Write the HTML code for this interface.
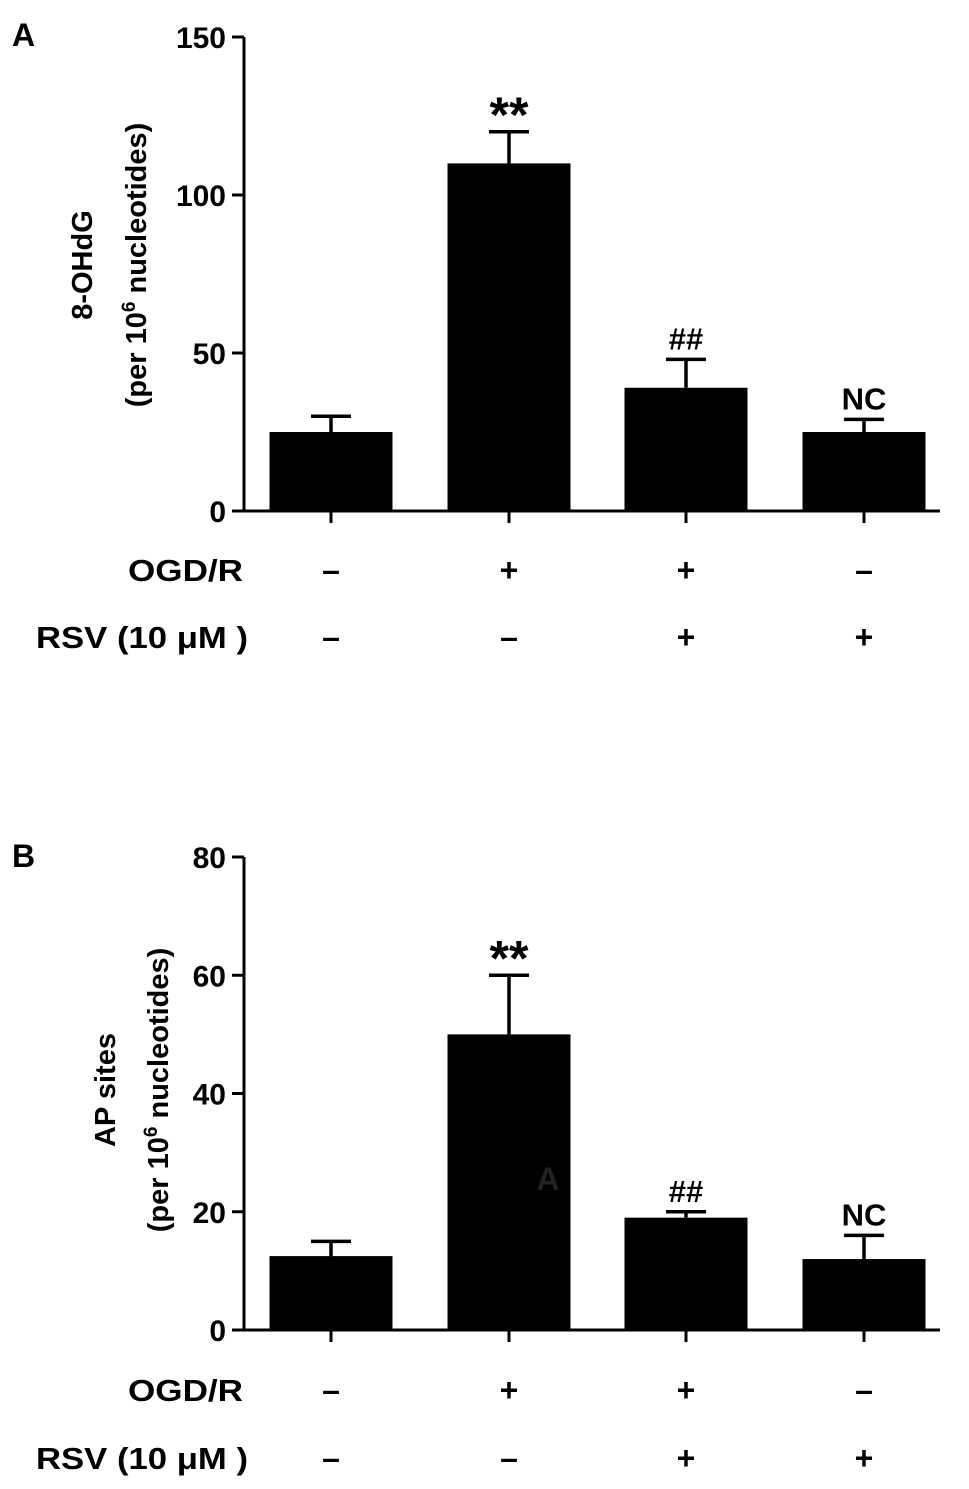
<!DOCTYPE html>
<html><head><meta charset="utf-8"><style>
html,body{margin:0;padding:0;background:#fff;}
svg{display:block;font-family:"Liberation Sans",Arial,sans-serif;font-weight:bold;}
</style></head><body>
<svg id="chart" width="969" height="1489" viewBox="0 0 969 1489" xmlns="http://www.w3.org/2000/svg"></svg>
<script>
const categories = ["ctrl","OGD/R","OGD/R+RSV","RSV"];
const ogdSigns = ["–","+","+","–"];
const rsvSigns = ["–","–","+","+"];
const valuesA = [25, 110, 39, 25];
const errorsA = [30, 120, 48, 29];
const annotA = ["", "**", "##", "NC"];
const ticksA = [0, 50, 100, 150];
const valuesB = [12.5, 50, 19, 12];
const errorsB = [15, 60, 20, 16];
const annotB = ["", "**", "##", "NC"];
const ticksB = [0, 20, 40, 60, 80];

const NS = "http://www.w3.org/2000/svg";
const svg = document.getElementById("chart");
function mk(tag, attrs, parent){
  const e = document.createElementNS(NS, tag);
  for (const k in attrs) e.setAttribute(k, attrs[k]);
  (parent||svg).appendChild(e);
  return e;
}
const centers = [331, 509, 686, 864];
const barW = 123;

function panel(letter, letterY, vals, errs, annots, ticks, yMax, yTop, yBot, sigY1, sigY2, lab1, c1, c2, mid){
  const g = mk("g", {});
  
  
  const y = v => yBot - (v / yMax) * (yBot - yTop);
  const pl = mk("text", {x: 12, y: letterY, "font-size": 32}, g);
  pl.textContent = letter;
  
  
  const ax = mk("path", {d: `M244 ${yTop} V${yBot} H940`, stroke: "#000", "stroke-width": 3, fill: "none"}, g);
  
  
  ticks.forEach(t => {
    const ty = y(t);
    const tl = mk("line", {x1: 232, x2: 244, y1: ty, y2: ty, stroke: "#000", "stroke-width": 3}, g);
    
    
    const tx = mk("text", {x: 226, y: ty + 11, "font-size": 30, "text-anchor": "end"}, g);
    tx.textContent = t;
    
    
  });
  const ya = mk("text", {transform: `translate(${c1+10},${mid}) rotate(-90)`, "font-size": 29, "text-anchor": "middle"}, g);
  ya.textContent = lab1;
  
  
  const yt = mk("text", {transform: `translate(${c2+10},${mid}) rotate(-90)`, "font-size": 29, "text-anchor": "middle"}, g);
  
  
  const t2 = mk("tspan", {}, yt); t2.textContent = "(per 10";
  const t3 = mk("tspan", {dy: -11, "font-size": 19}, yt); t3.textContent = "6";
  const t4 = mk("tspan", {dy: 11}, yt); t4.textContent = " nucleotides)";
  vals.forEach((v, i) => {
    const cx = centers[i];
    const ey = y(errs[i]);
    const el = mk("path", {d: `M${cx} ${y(v)} V${ey} M${cx-20} ${ey} H${cx+20}`, stroke: "#000", "stroke-width": 3.5, fill: "none"}, g);
    
    
    const b = mk("rect", {x: cx - barW/2, y: y(v), width: barW, height: yBot - y(v), fill: "#000"}, g);
    
    
    const tk = mk("line", {x1: cx, x2: cx, y1: yBot, y2: yBot + 12, stroke: "#000", "stroke-width": 3}, g);
    
    
    if (annots[i]) {
      const big = annots[i] === "**";
      const a = mk("text", {x: cx, y: ey - (big ? 0 : 10), "font-size": big ? 50 : 31, "text-anchor": "middle"}, g);
      a.textContent = annots[i];
      
      
    }
    const s1 = mk("text", {x: cx, y: sigY1, "font-size": 32, "text-anchor": "middle"}, g);
    s1.textContent = ogdSigns[i];
    
    
    const s2 = mk("text", {x: cx, y: sigY2, "font-size": 32, "text-anchor": "middle"}, g);
    s2.textContent = rsvSigns[i];
    
    
  });
  const r1 = mk("text", {x: 128, y: sigY1, "font-size": 31, textLength: 115, lengthAdjust: "spacingAndGlyphs"}, g);
  r1.textContent = "OGD/R";
  
  
  const r2 = mk("text", {x: 36, y: sigY2, "font-size": 31, textLength: 212, lengthAdjust: "spacingAndGlyphs"}, g);
  r2.textContent = "RSV (10 μM )";
  
  
}
panel("A", 46, valuesA, errorsA, annotA, ticksA, 150, 37, 511, 581, 648, "8-OHdG", 82, 136, 265);
panel("B", 867, valuesB, errorsB, annotB, ticksB, 80, 857, 1330, 1401, 1469, "AP sites", 105, 158, 1090);
const stray = mk("text", {x: 548, y: 1190, "font-size": 32, "text-anchor": "middle", fill: "#222"});
stray.textContent = "A";


</script>
</body></html>
